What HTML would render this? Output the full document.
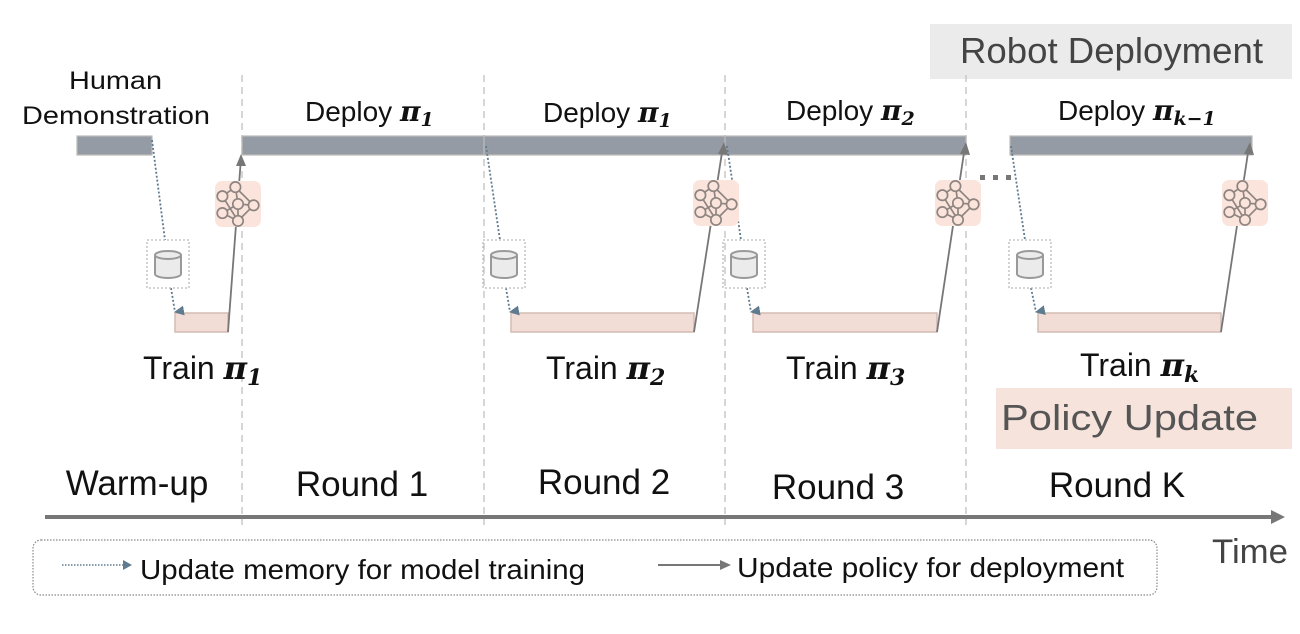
<!DOCTYPE html>
<html><head><meta charset="utf-8"><style>
html,body{margin:0;padding:0;background:#fff;}
svg{display:block;font-family:"Liberation Sans",sans-serif;}
.pi{font-family:"DejaVu Serif","Liberation Serif",serif;font-style:italic;font-weight:bold;}
</style></head><body>
<svg width="1300" height="634" viewBox="0 0 1300 634" xmlns="http://www.w3.org/2000/svg">
<defs>
<marker id="ab" markerWidth="10" markerHeight="10" refX="5" refY="9" orient="auto" markerUnits="userSpaceOnUse" viewBox="0 0 10 10">
<path d="M0,0 L10,0 L5,10 Z" fill="#5f7b8f"/></marker>
<g id="nn">
<rect x="-23" y="-23" width="46" height="46" rx="7" fill="#fbe4dc"/>
<g transform="scale(1.3)" stroke="#8e8480" stroke-width="1.3" fill="none">
<line x1="-12" y1="-6" x2="-2" y2="-13"/><line x1="-2" y1="-13" x2="0" y2="0"/><line x1="-12" y1="7" x2="0" y2="0"/>
<line x1="0" y1="0" x2="12" y2="1"/><line x1="-2" y1="-13" x2="12" y2="1"/><line x1="0" y1="0" x2="0" y2="13"/>
<line x1="-12" y1="7" x2="0" y2="13"/><line x1="12" y1="1" x2="0" y2="13"/><line x1="-12" y1="-6" x2="0" y2="13"/>
<circle cx="-12" cy="-6" r="4" fill="#fbe4dc"/><circle cx="-2" cy="-13" r="4" fill="#fbe4dc"/>
<circle cx="0" cy="0" r="4" fill="#fbe4dc"/><circle cx="12" cy="1" r="4" fill="#fbe4dc"/>
<circle cx="-12" cy="7" r="4" fill="#fbe4dc"/><circle cx="0" cy="13" r="4" fill="#fbe4dc"/>
</g></g>
<g id="db">
<rect x="-21" y="-24" width="42" height="48" fill="none" stroke="#bbb" stroke-width="1.3" stroke-dasharray="2,2"/>
<path d="M-13,-9 L-13,10 A13,4 0 0 0 13,10 L13,-9" fill="#ebebeb" stroke="#999" stroke-width="2"/>
<ellipse cx="0" cy="-9" rx="13" ry="4" fill="#ebebeb" stroke="#999" stroke-width="2"/>
</g>
</defs>

<rect x="930" y="24" width="362" height="55" fill="#ebebeb"/>
<text x="960" y="63" font-size="36" fill="#444" textLength="303" lengthAdjust="spacingAndGlyphs">Robot Deployment</text>
<rect x="996" y="388" width="296" height="61" fill="#f6e3dc"/>
<text x="1001" y="430" font-size="36" fill="#555" textLength="257" lengthAdjust="spacingAndGlyphs">Policy Update</text>

<g stroke="#c8c8c8" stroke-width="1.5" stroke-dasharray="7,5">
<line x1="242" y1="75" x2="242" y2="525"/><line x1="484" y1="75" x2="484" y2="525"/>
<line x1="725" y1="75" x2="725" y2="525"/><line x1="966" y1="75" x2="966" y2="525"/>
</g>

<g fill="#959ba5" stroke="#bdbab8" stroke-width="1.2">
<rect x="77" y="136" width="75" height="19"/>
<rect x="242" y="136" width="242" height="19"/>
<rect x="484" y="136" width="241" height="19"/>
<rect x="725" y="136" width="241" height="19"/>
<rect x="1010" y="136" width="242" height="19"/>
</g>

<g fill="#f1ddd6" stroke="#d3bcb4" stroke-width="1.5">
<rect x="175" y="313" width="53" height="19"/>
<rect x="511" y="313" width="183" height="19"/>
<rect x="753" y="313" width="184" height="19"/>
<rect x="1038" y="313" width="183" height="19"/>
</g>

<g stroke="#5f7b8f" stroke-width="1.8" stroke-dasharray="2,2" fill="none">
<line x1="152" y1="140" x2="165" y2="240"/><line x1="171" y1="288" x2="175" y2="312" marker-end="url(#ab)"/>
<line x1="486" y1="146" x2="500" y2="240"/><line x1="506" y1="288" x2="510" y2="312" marker-end="url(#ab)"/>
<line x1="727" y1="146" x2="741" y2="240"/><line x1="747" y1="288" x2="751" y2="312" marker-end="url(#ab)"/>
<line x1="1011" y1="146" x2="1025" y2="240"/><line x1="1031" y1="288" x2="1036" y2="312" marker-end="url(#ab)"/>
</g>

<g stroke="#777" stroke-width="1.8">
<line x1="228" y1="332" x2="241" y2="158"/><path d="M241,154 l-5,12 l10,0 Z" fill="#777" stroke="none"/>
<line x1="694" y1="332" x2="723" y2="146"/><path d="M724,142 l-6,12 l10,1 Z" fill="#777" stroke="none"/>
<line x1="937" y1="332" x2="965" y2="146"/><path d="M966,142 l-6,12 l10,1 Z" fill="#777" stroke="none"/>
<line x1="1221" y1="332" x2="1249" y2="146"/><path d="M1250,142 l-6,12 l10,1 Z" fill="#777" stroke="none"/>
</g>

<use href="#nn" x="238" y="204"/><use href="#nn" x="716" y="203"/>
<use href="#nn" x="958" y="203"/><use href="#nn" x="1245" y="203"/>
<use href="#db" x="168" y="264"/><use href="#db" x="504" y="264"/>
<use href="#db" x="744" y="264"/><use href="#db" x="1030" y="264"/>

<g fill="#777"><rect x="980" y="175" width="5" height="5"/><rect x="993" y="175" width="5" height="5"/><rect x="1006" y="175" width="5" height="5"/></g>

<text x="69" y="89" font-size="25" fill="#111" textLength="93" lengthAdjust="spacingAndGlyphs">Human</text>
<text x="22" y="124" font-size="25" fill="#111" textLength="188" lengthAdjust="spacingAndGlyphs">Demonstration</text>

<g font-size="28" fill="#111">
<text x="305" y="121">Deploy <tspan class="pi" font-size="28">π</tspan><tspan class="pi" font-size="19" dy="5">1</tspan></text>
<text x="543" y="122">Deploy <tspan class="pi" font-size="28">π</tspan><tspan class="pi" font-size="19" dy="5">1</tspan></text>
<text x="786" y="120">Deploy <tspan class="pi" font-size="28">π</tspan><tspan class="pi" font-size="19" dy="5">2</tspan></text>
<text x="1058" y="120">Deploy <tspan class="pi" font-size="28">π</tspan><tspan class="pi" font-size="19" dy="5">k−1</tspan></text>
</g>
<g font-size="32" fill="#111">
<text x="143" y="379">Train <tspan class="pi" font-size="32">π</tspan><tspan class="pi" font-size="22" dy="6">1</tspan></text>
<text x="546" y="379">Train <tspan class="pi" font-size="32">π</tspan><tspan class="pi" font-size="22" dy="6">2</tspan></text>
<text x="786" y="379">Train <tspan class="pi" font-size="32">π</tspan><tspan class="pi" font-size="22" dy="6">3</tspan></text>
<text x="1080" y="376">Train <tspan class="pi" font-size="32">π</tspan><tspan class="pi" font-size="22" dy="6">k</tspan></text>
</g>
<g font-size="35" fill="#111" text-anchor="middle">
<text x="137" y="495">Warm-up</text><text x="362" y="496">Round 1</text>
<text x="604" y="494">Round 2</text><text x="838" y="499">Round 3</text>
<text x="1117" y="497">Round K</text>
</g>

<line x1="45" y1="517" x2="1272" y2="517" stroke="#777" stroke-width="4"/>
<path d="M1285,517 L1271,510 L1271,524 Z" fill="#777"/>
<text x="1212" y="563" font-size="34" fill="#444" textLength="76" lengthAdjust="spacingAndGlyphs">Time</text>

<rect x="33" y="540" width="1124" height="55" rx="8" fill="none" stroke="#888" stroke-width="1.2" stroke-dasharray="1.5,1.5"/>
<line x1="62" y1="565" x2="124" y2="565" stroke="#5f7b8f" stroke-width="1.5" stroke-dasharray="1.5,1.5"/>
<path d="M132,565 L123,560 L123,570 Z" fill="#5f7b8f"/>
<text x="140" y="579" font-size="28" fill="#111" textLength="445" lengthAdjust="spacingAndGlyphs">Update memory for model training</text>
<line x1="658" y1="565" x2="722" y2="565" stroke="#777" stroke-width="2"/>
<path d="M731,565 L720,560 L720,570 Z" fill="#777"/>
<text x="737" y="577" font-size="28" fill="#111" textLength="387" lengthAdjust="spacingAndGlyphs">Update policy for deployment</text>
</svg>
</body></html>
